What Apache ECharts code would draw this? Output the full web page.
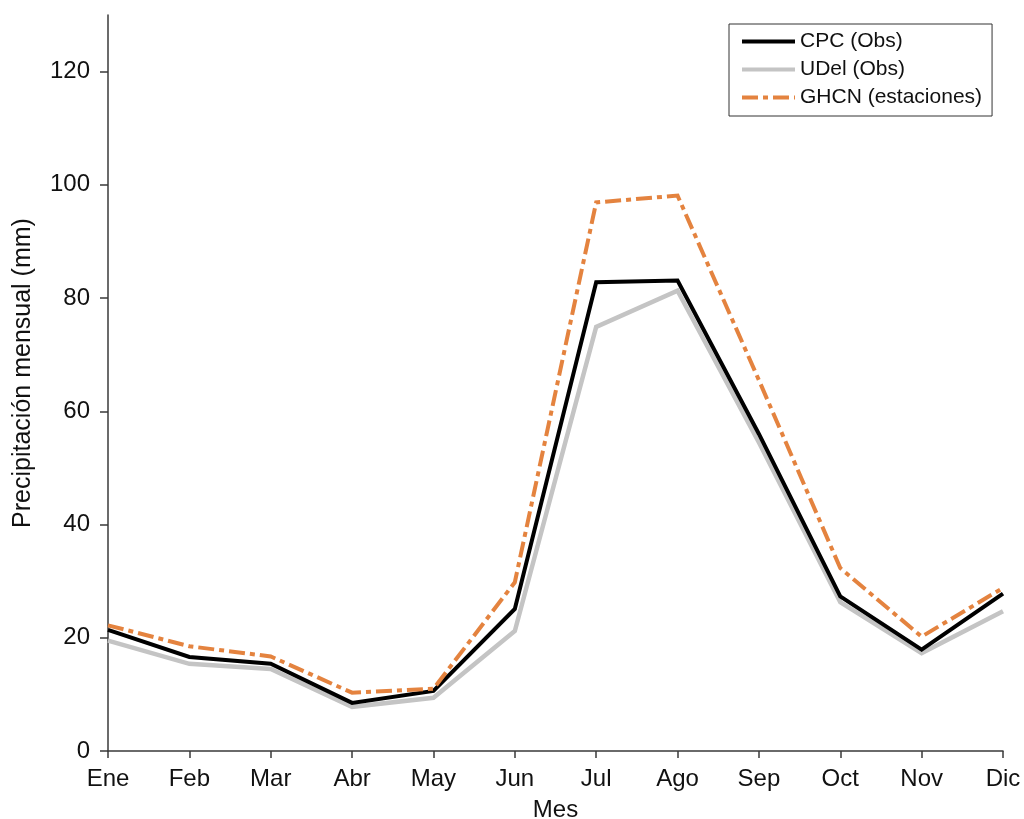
<!DOCTYPE html>
<html>
<head>
<meta charset="utf-8">
<title>Precipitación mensual</title>
<script src="https://cdn.jsdelivr.net/npm/echarts@6/dist/echarts.min.js"></script>
<style>
  html, body { margin: 0; padding: 0; background: #fff; overflow: hidden; }
  #chart { width: 1024px; height: 819px; }
</style>
</head>
<body>
<div id="chart"></div>
<script>
// Monthly precipitation climatology (mm)
const months = ['Ene', 'Feb', 'Mar', 'Abr', 'May', 'Jun', 'Jul', 'Ago', 'Sep', 'Oct', 'Nov', 'Dic'];
const cpc  = [21.4, 16.6, 15.4, 8.5, 10.6, 25.1, 82.8, 83.1, 56.0, 27.3, 17.9, 27.8];
const udel = [19.5, 15.4, 14.5, 7.8, 9.4, 21.2, 74.9, 81.3, 54.5, 26.3, 17.3, 24.7];
const ghcn = [22.2, 18.5, 16.7, 10.3, 11.0, 29.8, 96.9, 98.1, 65.5, 32.3, 20.2, 28.8];
const yTicks = [0, 20, 40, 60, 80, 100, 120];

const FONT = "'Liberation Sans', Arial, sans-serif";
const AXIS_COLOR = '#3a3a3a';

const chart = echarts.init(document.getElementById('chart'), null, { renderer: 'canvas' });

chart.setOption({
  animation: false,
  backgroundColor: '#ffffff',
  textStyle: { fontFamily: FONT, color: '#111' },
  grid: {
    left: 108, width: 895, top: 15, height: 736,
    containLabel: false,
    outerBoundsMode: 'none'
  },
  legend: {
    orient: 'vertical',
    left: 729,
    top: 24,
    padding: [7, 10, 8, 11],
    itemWidth: 53,
    itemHeight: 14,
    itemGap: 7,
    borderColor: '#333',
    borderWidth: 1,
    backgroundColor: '#fff',
    textStyle: { fontFamily: FONT, fontSize: 21, color: '#111' },
    lineStyle: { width: 4 },
    // hide the marker dot so only the line sample shows
    itemStyle: { opacity: 0 },
    data: ['CPC (Obs)', 'UDel (Obs)', 'GHCN (estaciones)']
  },
  xAxis: {
    type: 'category',
    data: months,
    boundaryGap: false,
    name: 'Mes',
    nameLocation: 'middle',
    nameGap: 47,
    nameTextStyle: { fontFamily: FONT, fontSize: 24, color: '#111' },
    axisLine: { lineStyle: { color: AXIS_COLOR, width: 1.5 } },
    axisTick: { alignWithLabel: true, length: 7, lineStyle: { color: AXIS_COLOR, width: 1.5 } },
    axisLabel: { fontFamily: FONT, fontSize: 24, color: '#111', margin: 16 },
    splitLine: { show: false }
  },
  yAxis: {
    type: 'value',
    min: 0,
    max: 130,
    name: 'Precipitación mensual (mm)',
    nameLocation: 'middle',
    nameGap: 72,
    // extra leading padding nudges the rotated title slightly upward
    nameTextStyle: { fontFamily: FONT, fontSize: 25, color: '#111', padding: [0, 0, 0, 20] },
    axisLine: { show: true, lineStyle: { color: AXIS_COLOR, width: 1.5 } },
    axisTick: { show: true, length: 8, customValues: yTicks, lineStyle: { color: AXIS_COLOR, width: 1.5 } },
    axisLabel: { fontFamily: FONT, fontSize: 24, color: '#111', margin: 18, customValues: yTicks },
    splitLine: { show: false }
  },
  series: [
    {
      name: 'UDel (Obs)',
      type: 'line',
      data: udel,
      symbol: 'none',
      z: 2,
      lineStyle: { color: '#c4c4c4', width: 4.5, cap: 'butt', join: 'miter' },
      itemStyle: { color: '#c4c4c4' }
    },
    {
      name: 'CPC (Obs)',
      type: 'line',
      data: cpc,
      symbol: 'none',
      z: 3,
      lineStyle: { color: '#000000', width: 4, cap: 'butt', join: 'miter' },
      itemStyle: { color: '#000000' }
    },
    {
      name: 'GHCN (estaciones)',
      type: 'line',
      data: ghcn,
      symbol: 'none',
      z: 4,
      lineStyle: { color: '#e4833f', width: 4, type: [16, 5, 5, 5], cap: 'butt', join: 'miter' },
      itemStyle: { color: '#e4833f' }
    }
  ]
});
</script>
</body>
</html>
